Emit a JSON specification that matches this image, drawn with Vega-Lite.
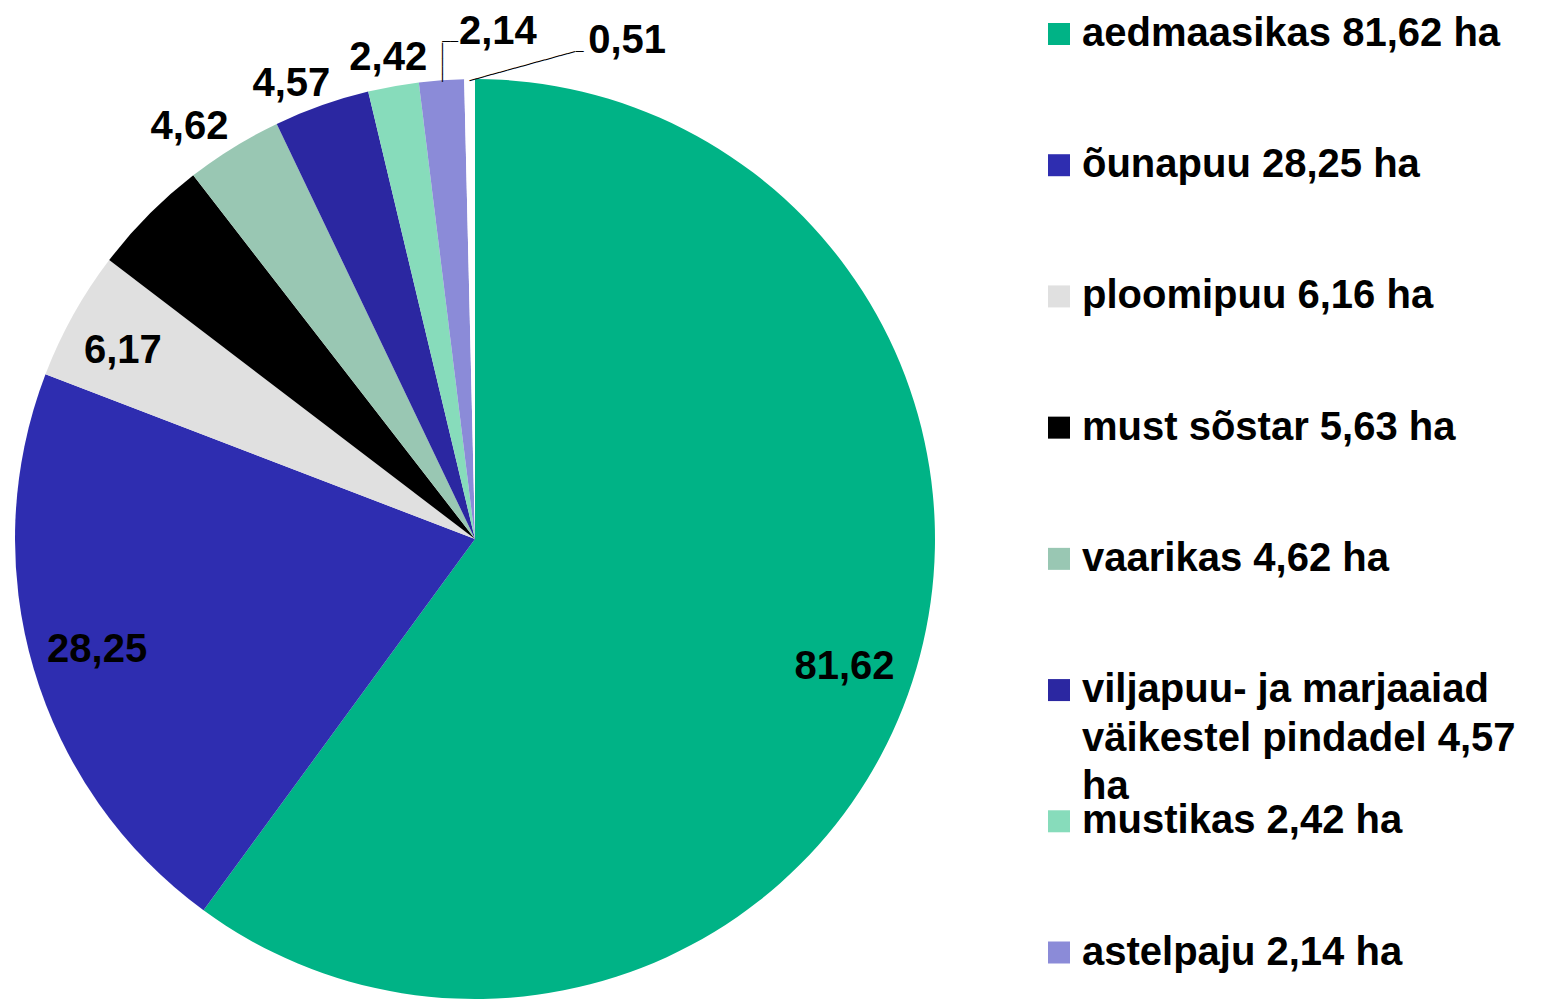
{
  "$schema": "https://vega.github.io/schema/vega-lite/v6.json",
  "padding": 0,
  "background": "white",
  "spacing": 98,
  "bounds": "flush",
  "config": {
    "view": {"stroke": null},
    "text": {"font": "Liberation Sans", "fontWeight": "bold", "fontSize": 40, "color": "black"}
  },
  "data": {
    "values": [
      {"rank": 1, "name": "aedmaasikas", "ha": 81.62, "label": "81,62", "legend": "aedmaasikas 81,62 ha"},
      {"rank": 2, "name": "õunapuu", "ha": 28.25, "label": "28,25", "legend": "õunapuu 28,25 ha"},
      {"rank": 3, "name": "ploomipuu", "ha": 6.17, "label": "6,17", "legend": "ploomipuu 6,16 ha"},
      {"rank": 4, "name": "must sõstar", "ha": 5.63, "label": "5,63", "legend": "must sõstar 5,63 ha"},
      {"rank": 5, "name": "vaarikas", "ha": 4.62, "label": "4,62", "legend": "vaarikas 4,62 ha"},
      {"rank": 6, "name": "viljapuu- ja marjaaiad väikestel pindadel", "ha": 4.57, "label": "4,57", "legend": "viljapuu- ja marjaaiad\nväikestel pindadel 4,57\nha"},
      {"rank": 7, "name": "mustikas", "ha": 2.42, "label": "2,42", "legend": "mustikas 2,42 ha"},
      {"rank": 8, "name": "astelpaju", "ha": 2.14, "label": "2,14", "legend": "astelpaju 2,14 ha"},
      {"rank": 9, "name": "muu", "ha": 0.51, "label": "0,51", "legend": null}
    ]
  },
  "hconcat": [
    {
      "width": 950,
      "height": 1078,
      "encoding": {
        "theta": {"field": "ha", "type": "quantitative", "stack": true},
        "order": {"field": "rank", "type": "quantitative"}
      },
      "layer": [
        {
          "mark": {"type": "arc", "radius": 460},
          "encoding": {
            "color": {
              "field": "name", "type": "nominal", "legend": null,
              "scale": {
                "domain": ["aedmaasikas", "õunapuu", "ploomipuu", "must sõstar", "vaarikas", "viljapuu- ja marjaaiad väikestel pindadel", "mustikas", "astelpaju", "muu"],
                "range": ["#00B386", "#2E2DB0", "#E0E0E0", "#000000", "#99C7B3", "#2B27A1", "#87DCBB", "#8B8BD8", "#FFFFFF"]
              }
            }
          }
        },
        {
          "mark": {"type": "text", "radius": 394, "dx": -5, "dy": 6, "align": "center", "baseline": "middle"},
          "encoding": {
            "detail": {"field": "name", "type": "nominal"},
            "text": {"condition": {"test": "datum.rank == 1", "field": "label", "type": "nominal"}, "value": ""}
          }
        },
        {
          "mark": {"type": "text", "radius": 394, "align": "center", "baseline": "middle"},
          "encoding": {
            "detail": {"field": "name", "type": "nominal"},
            "text": {"condition": {"test": "datum.rank == 2 || datum.rank == 4", "field": "label", "type": "nominal"}, "value": ""}
          }
        },
        {
          "mark": {"type": "text", "radius": 394, "dx": -8, "dy": 4, "align": "center", "baseline": "middle"},
          "encoding": {
            "detail": {"field": "name", "type": "nominal"},
            "text": {"condition": {"test": "datum.rank == 3", "field": "label", "type": "nominal"}, "value": ""}
          }
        },
        {
          "mark": {"type": "text", "radius": 470, "align": "right", "baseline": "alphabetic"},
          "encoding": {
            "detail": {"field": "name", "type": "nominal"},
            "text": {"condition": {"test": "datum.rank == 5", "field": "label", "type": "nominal"}, "value": ""}
          }
        },
        {
          "mark": {"type": "text", "radius": 470, "dx": 12, "align": "right", "baseline": "alphabetic"},
          "encoding": {
            "detail": {"field": "name", "type": "nominal"},
            "text": {"condition": {"test": "datum.rank == 6", "field": "label", "type": "nominal"}, "value": ""}
          }
        },
        {
          "mark": {"type": "text", "radius": 489, "align": "center", "baseline": "middle"},
          "encoding": {
            "detail": {"field": "name", "type": "nominal"},
            "text": {"condition": {"test": "datum.rank == 7", "field": "label", "type": "nominal"}, "value": ""}
          }
        },
        {
          "mark": {"type": "text", "radius": 508, "dx": 60, "align": "center", "baseline": "middle"},
          "encoding": {
            "detail": {"field": "name", "type": "nominal"},
            "text": {"condition": {"test": "datum.rank == 8", "field": "label", "type": "nominal"}, "value": ""}
          }
        },
        {
          "mark": {"type": "text", "radius": 498, "dx": 158, "align": "center", "baseline": "middle"},
          "encoding": {
            "detail": {"field": "name", "type": "nominal"},
            "text": {"condition": {"test": "datum.rank == 9", "field": "label", "type": "nominal"}, "value": ""}
          }
        },
        {
          "mark": {"type": "text", "radius": 478, "dy": -2, "angle": 90, "font": "DejaVu Sans", "fontWeight": "normal", "fontSize": 13, "align": "center", "baseline": "middle"},
          "encoding": {
            "detail": {"field": "name", "type": "nominal"},
            "text": {"condition": {"test": "datum.rank == 8", "value": "─────"}, "value": ""}
          }
        },
        {
          "mark": {"type": "text", "radius": 498, "dx": 11.5, "font": "DejaVu Sans", "fontWeight": "normal", "fontSize": 13, "align": "center", "baseline": "middle"},
          "encoding": {
            "detail": {"field": "name", "type": "nominal"},
            "text": {"condition": {"test": "datum.rank == 8", "value": "──"}, "value": ""}
          }
        },
        {
          "mark": {"type": "text", "radius": 472.5, "dx": 51.1, "dy": 14.1, "angle": -15.4, "font": "DejaVu Sans", "fontWeight": "normal", "fontSize": 13, "align": "center", "baseline": "middle"},
          "encoding": {
            "detail": {"field": "name", "type": "nominal"},
            "text": {"condition": {"test": "datum.rank == 9", "value": "──────────────"}, "value": ""}
          }
        },
        {
          "mark": {"type": "text", "radius": 487, "dx": 110.5, "font": "DejaVu Sans", "fontWeight": "normal", "fontSize": 13, "align": "center", "baseline": "middle"},
          "encoding": {
            "detail": {"field": "name", "type": "nominal"},
            "text": {"condition": {"test": "datum.rank == 9", "value": "─"}, "value": ""}
          }
        }
      ]
    },
    {
      "width": 22,
      "height": 1078,
      "transform": [{"filter": "datum.legend != null"}],
      "encoding": {
        "y": {
          "field": "name", "type": "nominal", "axis": null,
          "scale": {
            "type": "point",
            "padding": 0,
            "domain": ["aedmaasikas", "õunapuu", "ploomipuu", "must sõstar", "vaarikas", "viljapuu- ja marjaaiad väikestel pindadel", "mustikas", "astelpaju"],
            "range": [34, 952.5]
          }
        }
      },
      "layer": [
        {
          "mark": {"type": "square", "size": 484, "filled": true, "opacity": 1},
          "encoding": {
            "color": {
              "field": "name", "type": "nominal", "legend": null,
              "scale": {
                "domain": ["aedmaasikas", "õunapuu", "ploomipuu", "must sõstar", "vaarikas", "viljapuu- ja marjaaiad väikestel pindadel", "mustikas", "astelpaju", "muu"],
                "range": ["#00B386", "#2E2DB0", "#E0E0E0", "#000000", "#99C7B3", "#2B27A1", "#87DCBB", "#8B8BD8", "#FFFFFF"]
              }
            }
          }
        },
        {
          "mark": {"type": "text", "align": "left", "baseline": "top", "dx": 23, "dy": -20, "lineBreak": "\n", "lineHeight": 48.5},
          "encoding": {
            "text": {"field": "legend", "type": "nominal"}
          }
        }
      ]
    }
  ]
}
